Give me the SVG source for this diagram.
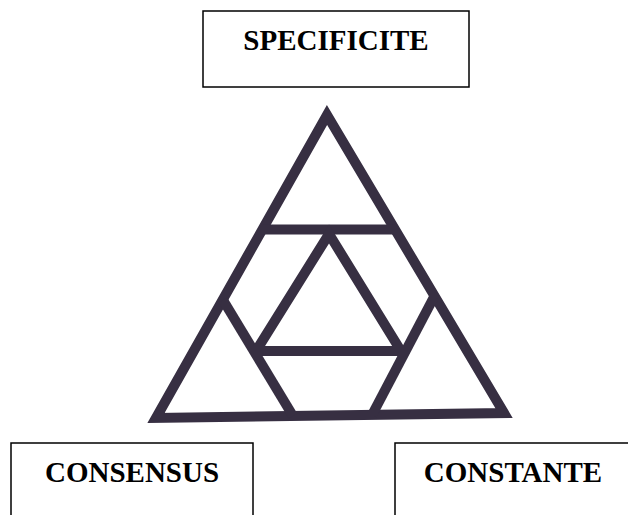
<svg xmlns="http://www.w3.org/2000/svg" width="628" height="515" viewBox="0 0 628 515">
<style>
.box{fill:#fff;stroke:#000;stroke-width:1.5}
.lbl{font-family:"Liberation Serif","Times New Roman",serif;font-weight:bold;font-size:29px;fill:#000;text-anchor:middle}
.tri{fill:none;stroke:#372f42;stroke-width:10;stroke-linejoin:miter;stroke-miterlimit:10}
</style>
<rect width="628" height="515" fill="#fff"/>
<g id="specificite">
<rect class="box" x="203" y="11" width="266" height="76"/>
<text class="lbl" x="336" y="50">SPECIFICITE</text>
</g>
<g id="consensus">
<rect class="box" x="11" y="443" width="242" height="80"/>
<text class="lbl" x="132" y="482">CONSENSUS</text>
</g>
<g id="constante">
<rect class="box" x="395" y="443" width="240" height="80"/>
<text class="lbl" x="513" y="482">CONSTANTE</text>
</g>
<g id="triangle">
<polygon class="tri" points="327,115 156,418 504,413"/>
<line class="tri" x1="262" y1="229.5" x2="395" y2="229.5"/>
<line class="tri" x1="223" y1="300" x2="293" y2="416"/>
<line class="tri" x1="434" y1="297" x2="372" y2="415"/>
<polyline class="tri" points="256,351 329,234 401,351"/>
<line class="tri" x1="252" y1="351" x2="405" y2="351"/>
</g>
</svg>
